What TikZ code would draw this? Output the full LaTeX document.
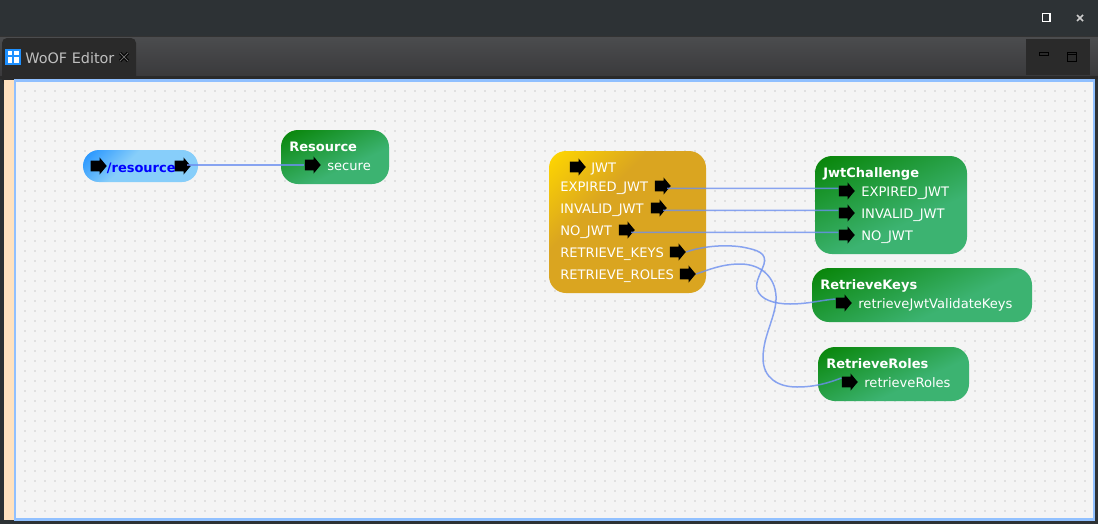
\documentclass[tikz,border=0pt]{standalone}
\usepackage{fontspec}
\setmainfont{DejaVu Sans}
\usetikzlibrary{shapes.arrows}
\definecolor{titlebar}{HTML}{2D3235}
\definecolor{tabdark}{HTML}{2A2A2A}
\definecolor{tabtop}{HTML}{4B4C4E}
\definecolor{tabbottom}{HTML}{3A3A3C}
\definecolor{peach}{HTML}{FFE2BF}
\definecolor{frameblue}{HTML}{90C0FF}
\definecolor{canvas}{HTML}{F4F4F4}
\definecolor{griddot}{HTML}{E0E0E0}
\definecolor{linkblue}{HTML}{6C8FF0}
\definecolor{greendark}{HTML}{088508}
\definecolor{greenlight}{HTML}{3CB371}
\definecolor{golddark}{HTML}{FFD700}
\definecolor{goldlight}{HTML}{DAA520}
\definecolor{skydark}{HTML}{1E90FF}
\definecolor{skylight}{HTML}{87CEFA}
\pgfdeclareverticalshading{greenshade}{100bp}{color(0bp)=(greenlight); color(40bp)=(greenlight); color(82bp)=(greendark); color(100bp)=(greendark)}
\pgfdeclareverticalshading{goldshade}{100bp}{color(0bp)=(goldlight); color(62bp)=(goldlight); color(85bp)=(golddark); color(100bp)=(golddark)}
\pgfdeclareverticalshading{skyshade}{100bp}{color(0bp)=(skylight); color(58bp)=(skylight); color(85bp)=(skydark); color(100bp)=(skydark)}
\tikzset{wh/.style 2 args={minimum width=#1*0.02cm, minimum height=#2*0.02cm}}
\begin{document}
\begin{tikzpicture}[x=0.02cm, y=-0.02cm]
	\tikzstyle{box} = [rectangle, inner sep=0, rounded corners=0.34cm, shading angle=45]
	\tikzstyle{greenbox} = [box, shading=greenshade, shading angle=25]
	\tikzstyle{port} = [single arrow, fill=black, inner xsep=0, inner ysep=0.1cm, minimum height=0.32cm, minimum width=0.33cm, single arrow head extend=0.065cm, single arrow tip angle=100, xshift=-0.03cm]
	\tikzstyle{txt} = [anchor=base west, inner sep=0, text=white, font=\fontsize{7.45}{9}\selectfont]
	\tikzstyle{head} = [txt, font=\fontsize{7.4}{9}\selectfont\bfseries]
	\tikzstyle{link} = [draw=linkblue, draw opacity=0.8, line width=0.03cm]
	\useasboundingbox (0,0) rectangle (1098,524);
	\fill[titlebar] (0,0) rectangle (1098,524);
	\fill[black!80] (0,36) rectangle (1098,37);
	\shade[top color=tabtop, bottom color=tabbottom] (0,37) rectangle (1098,76);
	\fill[tabdark] (0,76) rectangle (1098,79); \fill[tabdark, rounded corners=0.1cm] (2,38) rectangle (136,85); \fill[tabdark] (1026,39) rectangle (1090,75);
	\fill[peach] (4,80) rectangle (15,520);
	\fill[frameblue] (14,79) rectangle (1095,521);
	\fill[canvas] (16,82) rectangle (1093,518);
	\foreach \i in {0,...,106} \foreach \j in {0,...,42} \fill[griddot] (23.5+10*\i,89.5+10*\j) rectangle +(2,2);

	\fill[skydark] (5,49) rectangle (21,65); \fill[white] (8,51) rectangle (12,55); \fill[white] (14,51) rectangle (19,55); \fill[white] (8,57) rectangle (12,63); \fill[white] (14,57) rectangle (19,63);
	\node[txt, text=white!75!black, font=\fontsize{8.2}{10}\selectfont] (tabname) at (25,63) {WoOF Editor};
	\draw[black, line width=0.06cm] (120,53) -- (128,61) (128,53) -- (120,61);
	\draw[tabdark!70!white, line width=0.02cm] (120,53) -- (128,61) (128,53) -- (120,61);
	\draw[white, line width=0.03cm] (1042.5,13.5) rectangle (1050,21.5);
	\draw[white!80!black, line width=0.03cm] (1077,15) -- (1083,21) (1083,15) -- (1077,21);
	\draw[black, line width=0.025cm] (1039.5,52.5) rectangle (1048.5,55.5); \draw[black, line width=0.025cm] (1067.5,52.5) rectangle (1076.5,61.5) (1067.5,54.5) -- (1076.5,54.5);

	\node[box, shading=skyshade, wh={115}{32}, rounded corners=0.32cm] (resource) at (140.5,166) {};
	\node[greenbox, wh={108}{54}] (resbox) at (335,157) {};
	\node[box, shading=goldshade, wh={157}{142}] (jwtbox) at (627.5,222) {};
	\node[greenbox, wh={152}{98}] (chalbox) at (891,205) {};
	\node[greenbox, wh={220}{54}] (keysbox) at (922,295) {};
	\node[greenbox, wh={151}{54}] (rolesbox) at (893.5,374) {};

	\node[port] (pres1) at (98,166) {}; \node[port] (pres2) at (182,166) {}; \node[port] (psecure) at (312,165) {};
	\node[port] (pjwt) at (577,167) {}; \node[port] (pexp) at (662,186) {}; \node[port] (pinv) at (658,208) {}; \node[port] (pno) at (626,230) {}; \node[port] (pkeys) at (677,252) {}; \node[port] (proles) at (687,274) {};
	\node[port] (cexp) at (846,191) {}; \node[port] (cinv) at (846,213) {}; \node[port] (cno) at (846,235) {}; \node[port] (ckeys) at (843,303) {}; \node[port] (croles) at (849,382) {};

	\node[head, text=blue] (restext) at (106.5,172) {/resource};
	\node[head] (restitle) at (289,151) {Resource}; \node[txt] (sectext) at (327,170) {secure};
	\node[txt] (jwttext) at (591,172) {JWT}; \node[txt] (exptext) at (560,191) {EXPIRED\_JWT}; \node[txt] (invtext) at (560,213) {INVALID\_JWT}; \node[txt] (notext) at (560,235) {NO\_JWT}; \node[txt] (keystext) at (560,257) {RETRIEVE\_KEYS}; \node[txt] (rolestext) at (560,279) {RETRIEVE\_ROLES};
	\node[head] (chaltitle) at (823,177) {JwtChallenge}; \node[txt] (cexptext) at (861,196) {EXPIRED\_JWT}; \node[txt] (cinvtext) at (861,218) {INVALID\_JWT}; \node[txt] (cnotext) at (861,240) {NO\_JWT};
	\node[head] (keystitle) at (820,289) {RetrieveKeys}; \node[txt] (ckeystext) at (858,308) {retrieveJwtValidateKeys};
	\node[head] (rolestitle) at (826,368) {RetrieveRoles}; \node[txt] (crolestext) at (864,387) {retrieveRoles};

	\draw[link] ([xshift=-0.08cm, yshift=0.02cm]pres2.east) -- (psecure.west);
	\draw[link] ([xshift=-0.08cm, yshift=-0.045cm]pexp.east) -- ([yshift=0.055cm]cexp.west); \draw[link] ([xshift=-0.08cm, yshift=-0.045cm]pinv.east) -- ([yshift=0.055cm]cinv.west); \draw[link] ([xshift=-0.08cm, yshift=-0.045cm]pno.east) -- ([yshift=0.055cm]cno.west);
	\draw[link] (pkeys.east) .. controls (700,247) and (722,244) .. (742,247) .. controls (758,250) and (767,253) .. (764,264) .. controls (761,273) and (755,282) .. (757,289) .. controls (760,300) and (775,304) .. (790,304) .. controls (808,304) and (822,300) .. ([yshift=0.08cm]ckeys.west);
	\draw[link] (proles.east) .. controls (708,270) and (722,264) .. (740,264) .. controls (762,264) and (775,278) .. (776,296) .. controls (777,315) and (763,335) .. (763,358) .. controls (763,378) and (778,387) .. (797,387) .. controls (815,387) and (828,383) .. ([yshift=0.08cm]croles.west);
\end{tikzpicture}
\end{document}
